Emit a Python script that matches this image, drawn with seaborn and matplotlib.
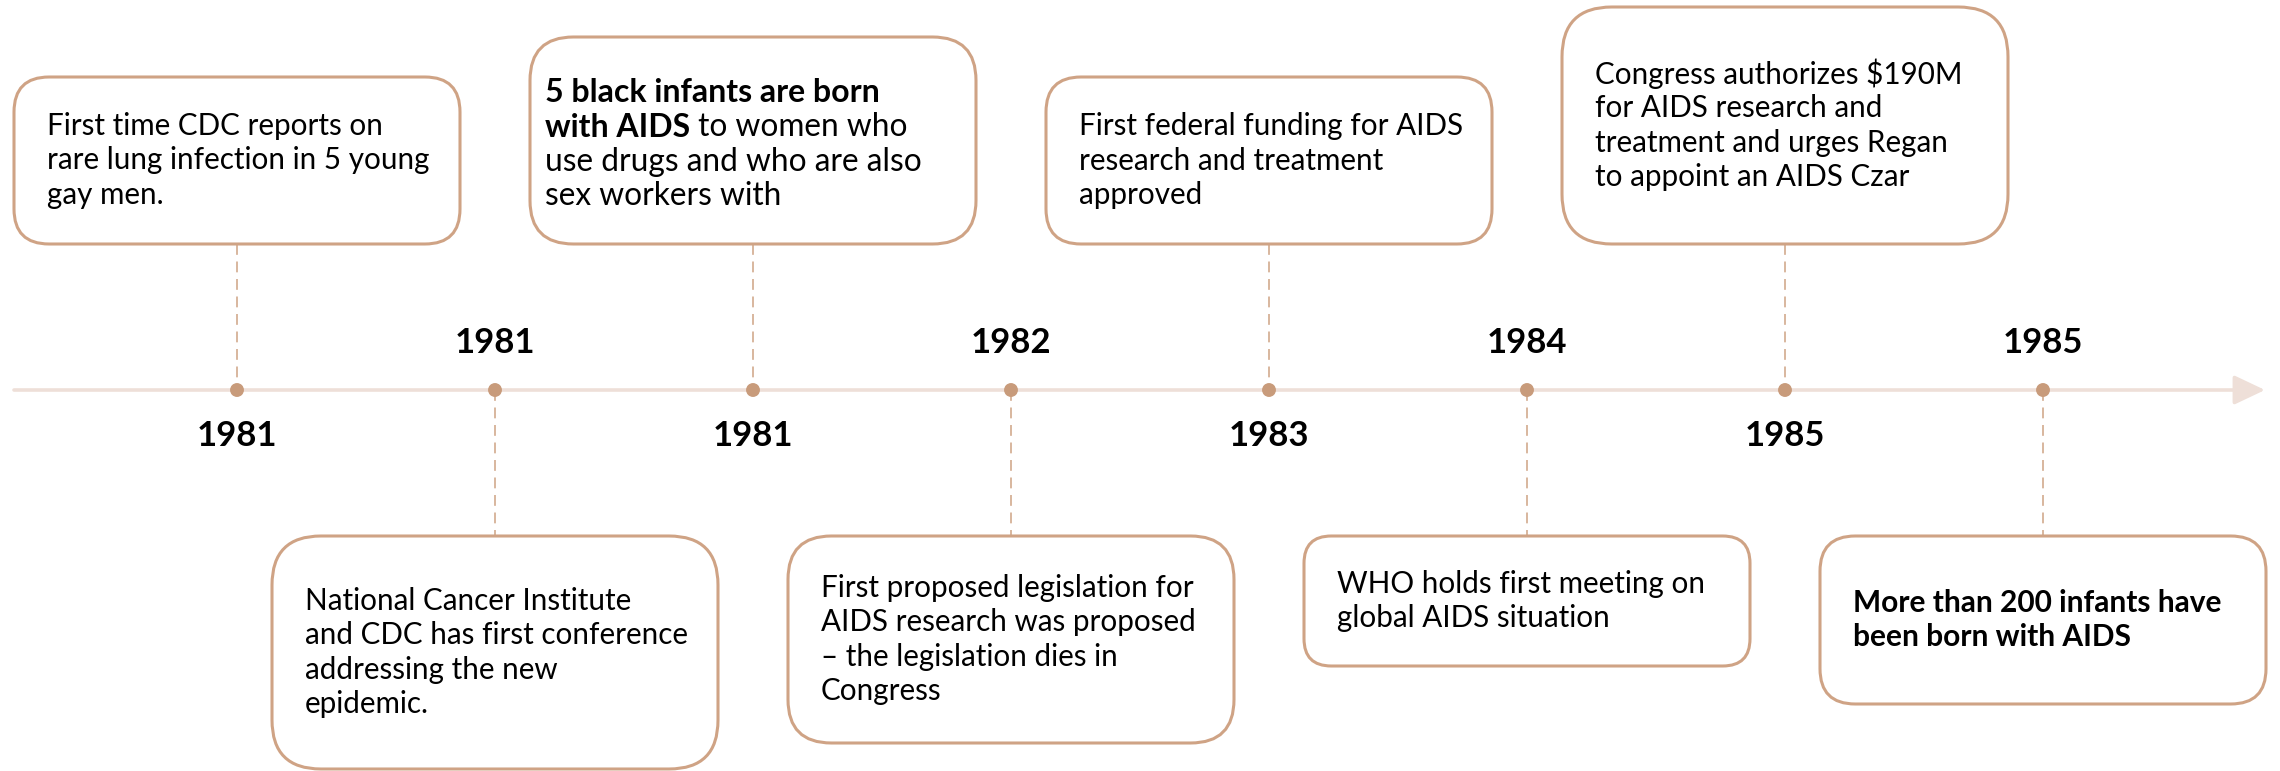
import matplotlib
matplotlib.use("Agg")
import matplotlib.pyplot as plt
import seaborn as sns
import pandas as pd
from matplotlib.patches import FancyBboxPatch

# ---------------- data ----------------
years = ["1981", "1981", "1981", "1982", "1983", "1984", "1985", "1985"]
events = [
    ["First time CDC reports on", "rare lung infection in 5 young", "gay men."],
    ["National Cancer Institute", "and CDC has first conference", "addressing the new", "epidemic."],
    ["**5 black infants are born**", "**with AIDS** to women who", "use drugs and who are also", "sex workers with"],
    ["First proposed legislation for", "AIDS research was proposed", "\u2013 the legislation dies in", "Congress"],
    ["First federal funding for AIDS", "research and treatment", "approved"],
    ["WHO holds first meeting on", "global AIDS situation"],
    ["Congress authorizes \\$190M", "for AIDS research and", "treatment and urges Regan", "to appoint an AIDS Czar"],
    ["**More than 200 infants have**", "**been born with AIDS**"],
]

# ---------------- layout (pixels) ----------------
W, H = 2280, 771
STEP = 258.0          # px between events
X0 = 237.0            # px of first event
LINE_Y = 390
box_top = [77, 536, 37, 536, 77, 536, 7, 536]
box_bot = [244, 769, 244, 743, 244, 666, 244, 704]
text_inset = [33, 33, 15, 33, 33, 33, 33, 33]
text_dy = [0, 0, 4, 0, 0, 0, 0, 0]
font_scale = [1.0, 1.0, 1.07, 1.0, 1.0, 1.0, 1.0, 1.0]
BOX_HALF = 223
LINE_PITCH = 34.5
FS = 21.3
FS_BOLD = 21.5

DOT = "#C89B7B"
EDGE = "#CFA385"
CONN = "#D2AA8E"
AXIS = "#EEDFD8"

sns.set_theme(style="white")
plt.rcParams["font.family"] = ["Lato", "DejaVu Sans"]

df = pd.DataFrame({"idx": range(len(years)), "year": years, "y": LINE_Y})

fig = plt.figure(figsize=(W / 100, H / 100), dpi=100)
ax = fig.add_axes([0, 0, 1, 1])
ax.set_xlim(-X0 / STEP, (W - X0) / STEP)
ax.set_ylim(H, 0)
ax.axis("off")

px = 1.0 / STEP  # x-units per pixel

# timeline with arrow head
ax.annotate("", xy=(7 + 222 * px, LINE_Y), xytext=(-223 * px, LINE_Y),
            arrowprops=dict(arrowstyle="-|>,head_length=1.9,head_width=0.9",
                            mutation_scale=10, color=AXIS, lw=2.6,
                            shrinkA=0, shrinkB=0), zorder=1)

for i, (yr, lines) in enumerate(zip(years, events)):
    up = (i % 2 == 0)
    top, bot = box_top[i], box_bot[i]
    # connector
    if up:
        ax.plot([i, i], [bot, LINE_Y], color=CONN, lw=1.2,
                linestyle=(0, (6.5, 4)), zorder=2)
    else:
        ax.plot([i, i], [LINE_Y, top], color=CONN, lw=1.2,
                linestyle=(0, (6.5, 4)), zorder=2)
    # box
    w = 2 * BOX_HALF * px
    h = bot - top
    r = 0.21 * min(2 * BOX_HALF, h)
    box = FancyBboxPatch((i - BOX_HALF * px, top), w, h,
                         boxstyle=f"round,pad=0,rounding_size={r * px}",
                         mutation_aspect=STEP, facecolor="white",
                         edgecolor=EDGE, lw=2.2, zorder=3)
    ax.add_patch(box)
    # text lines, vertically centred in the box
    n = len(lines)
    cy = (top + bot) / 2.0 + text_dy[i]
    y_first = cy - (n - 1) * LINE_PITCH / 2.0
    xl = i - BOX_HALF * px + text_inset[i] * px
    for k, line in enumerate(lines):
        yk = y_first + k * LINE_PITCH
        parts = line.split("**")
        segs = [(p, j % 2 == 1) for j, p in enumerate(parts) if p]
        prev = None
        for seg, bold in segs:
            kw = dict(fontsize=(FS_BOLD if bold else FS) * font_scale[i],
                      color="black", zorder=4,
                      fontweight="bold" if bold else "normal",
                      ha="left", va="center")
            if prev is None:
                prev = ax.text(xl, yk, seg, **kw)
            else:
                prev = ax.annotate(seg, xy=(1, 0.5), xycoords=prev, **kw)
    # year label
    ax.text(i, 343 if not up else 436, yr, ha="center", va="center",
            fontsize=25, fontweight="bold", color="black", zorder=4)

sns.scatterplot(data=df, x="idx", y="y", s=100, color=DOT, edgecolor="none",
                ax=ax, zorder=5, legend=False)
ax.set_xlim(-X0 / STEP, (W - X0) / STEP)
ax.set_ylim(H, 0)
ax.axis("off")

fig.savefig("out.png", dpi=100, facecolor="white")
